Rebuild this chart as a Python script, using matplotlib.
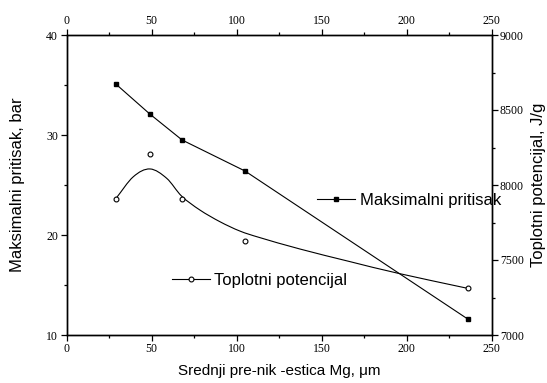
import matplotlib
matplotlib.use("Agg")
import matplotlib.pyplot as plt
import numpy as np
from matplotlib.path import Path
from matplotlib.patches import PathPatch
from matplotlib.lines import Line2D
from matplotlib.ticker import MultipleLocator

# ---- data ----
diameter = [29, 49, 68, 105, 236]                 # µm
pressure = [35.1, 32.1, 29.5, 26.4, 11.6]         # bar
heat = [7909, 8209, 7909, 7625, 7311]             # J/g

# smoothed trend line of the heat values
heat_fit_x = [29, 39.3, 49.1, 58.9, 67.8, 78.5, 90.3, 102, 113.8, 137.4, 166.8, 195.2, 236]
heat_fit_y = [7909, 8055, 8107, 8045, 7925, 7833, 7755, 7693, 7649, 7573, 7489, 7411, 7311]

x_ticks = [0, 50, 100, 150, 200, 250]
p_ticks = [10, 20, 30, 40]
h_ticks = [7000, 7500, 8000, 8500, 9000]

label_p = "Maksimalni pritisak"
label_h = "Toplotni potencijal"
xlabel = "Srednji pre-nik -estica Mg, \u03bcm"
ylabel_l = "Maksimalni pritisak, bar"
ylabel_r = "Toplotni potencijal, J/g"

serif = "Liberation Serif"
sans = "Liberation Sans"

fig = plt.figure(figsize=(5.47, 3.83), dpi=100)
W, H = 547, 383
ax = fig.add_axes([66.5 / W, 1 - 335 / H, (491.5 - 66.5) / W, 300 / H])
ax2 = ax.twinx()

lw = 0.8
ms_sq = 3.5
ms_ci = 3.5
ax.plot(diameter, pressure, color="black", lw=lw, marker="s", ms=ms_sq,
        mfc="black", mec="black", zorder=3)


def smooth_path(xs, ys):
    xs = np.asarray(xs, float)
    ys = np.asarray(ys, float)
    pts = np.column_stack([xs, ys])
    ext = np.vstack([pts[0] - (pts[1] - pts[0]), pts, pts[-1] + (pts[-1] - pts[-2])])
    verts = [tuple(pts[0])]
    codes = [Path.MOVETO]
    for i in range(1, len(ext) - 2):
        p0, p1, p2, p3 = ext[i - 1], ext[i], ext[i + 1], ext[i + 2]
        c1 = p1 + (p2 - p0) / 6.0
        c2 = p2 - (p3 - p1) / 6.0
        verts += [tuple(c1), tuple(c2), tuple(p2)]
        codes += [Path.CURVE4] * 3
    return Path(verts, codes)


ax2.add_patch(PathPatch(smooth_path(heat_fit_x, heat_fit_y), fill=False,
                        edgecolor="black", lw=lw, zorder=3))
ax2.plot(diameter, heat, ls="none", marker="o", ms=ms_ci, mfc="white",
         mec="black", mew=0.8, zorder=4)

ax.set_xlim(0, 250)
ax.set_ylim(10, 40)
ax2.set_ylim(7000, 9000)

ax.set_xticks(x_ticks)
ax.set_yticks(p_ticks)
ax2.set_yticks(h_ticks)
ax.xaxis.set_minor_locator(MultipleLocator(25))
ax.yaxis.set_minor_locator(MultipleLocator(5))
ax2.yaxis.set_minor_locator(MultipleLocator(250))

for a in (ax, ax2):
    for s in a.spines.values():
        s.set_linewidth(1.0)
ax.tick_params(axis="both", which="major", direction="out", length=4, width=0.9,
               labelsize=8.5, top=True, labeltop=True, pad=2)
ax.tick_params(axis="both", which="minor", direction="out", length=2.5, width=0.9,
               top=True)
ax2.tick_params(axis="y", which="major", direction="out", length=4, width=0.9,
                labelsize=8.5, pad=2)
ax2.tick_params(axis="y", which="minor", direction="out", length=2.5, width=0.9)
for lab in ax.get_xticklabels() + ax.get_yticklabels() + ax2.get_yticklabels():
    lab.set_fontfamily(serif)
for t in ax.xaxis.get_major_ticks():
    t.label2.set_fontfamily(serif)
    t.label2.set_fontsize(8.5)

ax.set_xlabel(xlabel, fontfamily=sans, fontsize=11, labelpad=6)
ax.set_ylabel(ylabel_l, fontfamily=sans, fontsize=12, labelpad=15)
ax2.set_ylabel(ylabel_r, fontfamily=sans, fontsize=12, labelpad=5)

h_p = Line2D([], [], color="black", lw=lw, marker="s", ms=ms_sq)
h_h = Line2D([], [], color="black", lw=lw, marker="o", ms=ms_ci, mfc="white", mew=0.8)
fig.legend([h_p], [label_p], loc="center left", frameon=False,
           bbox_to_anchor=(317 / W, 1 - 200 / H), handlelength=2.3,
           handletextpad=0.25, borderpad=0, borderaxespad=0,
           prop={"family": sans, "size": 12})
fig.legend([h_h], [label_h], loc="center left", frameon=False,
           bbox_to_anchor=(172 / W, 1 - 280 / H), handlelength=2.3,
           handletextpad=0.25, borderpad=0, borderaxespad=0,
           prop={"family": sans, "size": 12})

fig.savefig("out.png", dpi=100)
